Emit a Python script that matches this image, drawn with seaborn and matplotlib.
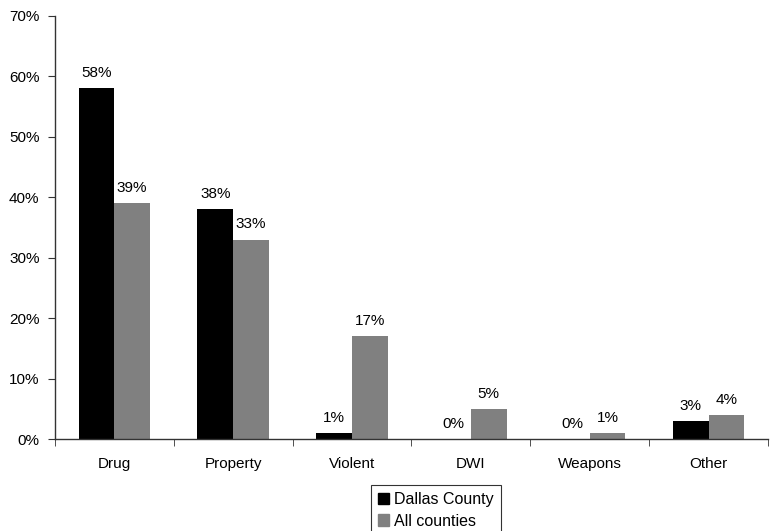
import matplotlib
matplotlib.use("Agg")
import matplotlib.pyplot as plt
import seaborn as sns
import pandas as pd
import numpy as np
from matplotlib.ticker import FixedLocator, PercentFormatter

categories = ["Drug", "Property", "Violent", "DWI", "Weapons", "Other"]
dallas_county = [58, 38, 1, 0, 0, 3]
all_counties = [39, 33, 17, 5, 1, 4]
series_names = ["Dallas County", "All counties"]
series_colors = ["#000000", "#808080"]

df = pd.DataFrame({
    "category": categories * 2,
    "value": dallas_county + all_counties,
    "series": [series_names[0]] * len(categories) + [series_names[1]] * len(categories),
})

sns.set_style("white")
plt.rcParams["font.family"] = ["Liberation Sans", "DejaVu Sans"]
plt.rcParams["font.size"] = 11
plt.rcParams["text.color"] = "#000000"
plt.rcParams["xtick.color"] = "#000000"
plt.rcParams["ytick.color"] = "#000000"

fig = plt.figure(figsize=(7.72, 5.31), dpi=100)
ax = fig.add_axes([0.071, 0.173, 0.924, 0.797])

sns.barplot(data=df, x="category", y="value", hue="series", order=categories,
            hue_order=series_names, palette=series_colors, width=0.6,
            saturation=1, linewidth=0, ax=ax, legend=True)

for cont in ax.containers:
    ax.bar_label(cont, fmt="%.0f%%", padding=6, fontsize=11, color="#000000")

ax.set_ylim(0, 70)
ax.set_yticks(np.arange(0, 71, 10))
ax.yaxis.set_major_formatter(PercentFormatter(decimals=0))
ax.set_xlim(-0.5, len(categories) - 0.5)
ax.set_xlabel("")
ax.set_ylabel("")

for side in ["top", "right"]:
    ax.spines[side].set_visible(False)
for side in ["left", "bottom"]:
    ax.spines[side].set_color("#333333")
    ax.spines[side].set_linewidth(1.0)

ax.tick_params(axis="y", which="major", direction="out", length=5, color="#333333",
               labelcolor="#000000", left=True, labelsize=11, pad=6)
ax.tick_params(axis="x", which="major", length=0, labelsize=11, pad=13,
               labelcolor="#000000")
ax.xaxis.set_minor_locator(FixedLocator(np.arange(-0.5, len(categories), 1.0)))
ax.tick_params(axis="x", which="minor", direction="out", length=5, color="#333333", bottom=True)

ax.get_legend().remove()
handles = [plt.Rectangle((0, 0), 1, 1, color=c) for c in series_colors]
leg = fig.legend(handles, series_names, loc="upper left", bbox_to_anchor=(0.48, 0.087),
                 frameon=True, fancybox=False, edgecolor="#000000", fontsize=11.5,
                 handlelength=0.72, handleheight=0.72, handletextpad=0.3,
                 borderpad=0.45, labelspacing=0.42, borderaxespad=0)
leg.get_frame().set_linewidth(0.8)
for t in leg.get_texts():
    t.set_color("#000000")

fig.savefig("out.png", dpi=100)
